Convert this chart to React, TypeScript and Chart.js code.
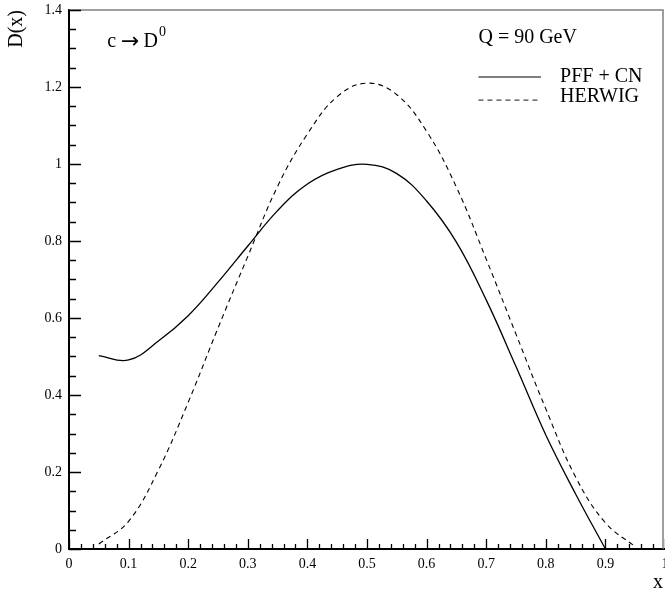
import { useEffect, useRef } from 'react';
import { Chart, registerables } from 'chart.js';

Chart.register(...registerables);

// PFF + CN (solid)
const xPff = [0.05, 0.1, 0.15, 0.2, 0.25, 0.3, 0.35, 0.4, 0.45, 0.5, 0.55, 0.6, 0.65, 0.7, 0.75, 0.8, 0.85, 0.9];
const yPff = [0.502, 0.491, 0.54, 0.606, 0.693, 0.787, 0.879, 0.948, 0.986, 0.999, 0.975, 0.904, 0.797, 0.647, 0.474, 0.296, 0.143, 0.0];

// HERWIG (dashed)
const xHer = [0.05, 0.1, 0.15, 0.2, 0.25, 0.3, 0.35, 0.4, 0.45, 0.5, 0.55, 0.6, 0.65, 0.7, 0.75, 0.8, 0.85, 0.9, 0.95];
const yHer = [0.013, 0.072, 0.205, 0.381, 0.574, 0.76, 0.942, 1.078, 1.175, 1.21, 1.18, 1.085, 0.94, 0.753, 0.558, 0.364, 0.187, 0.068, 0.006];

const seriesNames = ['PFF + CN', 'HERWIG'];
const energyLabel = 'Q = 90 GeV';
const yTitle = 'D(x)';
const xTitle = 'x';

const FONT = '"Liberation Serif", "Times New Roman", serif';
const DASH = [5, 4];

const fmt = (v: any) => String(Number(Number(v).toFixed(2)));

const annot = {
  id: 'annot',
  afterDraw(chart: any) {
    const { ctx, chartArea: a, scales } = chart;
    const x = scales.x;
    const y = scales.y;
    ctx.save();
    // top / right frame
    ctx.strokeStyle = '#808080';
    ctx.lineWidth = 1.5;
    ctx.beginPath();
    ctx.moveTo(a.left, a.top);
    ctx.lineTo(a.right - 2, a.top);
    ctx.lineTo(a.right - 2, a.bottom);
    ctx.stroke();

    // inner ticks
    ctx.strokeStyle = '#000';
    ctx.lineWidth = 1.3;
    ctx.beginPath();
    for (let i = 0; i <= 50; i++) {
      const px = Math.round(x.getPixelForValue(i * 0.02)) + 0.5;
      const len = i % 5 === 0 ? 10 : 5;
      ctx.moveTo(px, a.bottom);
      ctx.lineTo(px, a.bottom - len);
    }
    for (let i = 0; i <= 28; i++) {
      const py = Math.round(y.getPixelForValue(i * 0.05)) + 0.5;
      const len = i % 4 === 0 ? 12 : 7;
      ctx.moveTo(a.left, py);
      ctx.lineTo(a.left + len, py);
    }
    ctx.stroke();

    ctx.fillStyle = '#000';
    ctx.textBaseline = 'alphabetic';
    ctx.textAlign = 'left';
    // process label: c -> D^0
    const cx = x.getPixelForValue(0.064);
    const cy = y.getPixelForValue(1.304);
    ctx.font = `20px ${FONT}`;
    ctx.fillText('c', cx, cy);
    let px = cx + ctx.measureText('c').width + 5;
    ctx.font = `22px "DejaVu Sans", sans-serif`;
    ctx.fillText('\u2192', px, cy + 1);
    px += ctx.measureText('\u2192').width + 4;
    ctx.font = `20px ${FONT}`;
    ctx.fillText('D', px, cy);
    px += ctx.measureText('D').width + 1;
    ctx.font = `14px ${FONT}`;
    ctx.fillText('0', px, cy - 11);

    // energy label
    ctx.font = `20px ${FONT}`;
    ctx.fillText(energyLabel, x.getPixelForValue(0.687), y.getPixelForValue(1.314));

    // legend
    const lx0 = x.getPixelForValue(0.687);
    const lx1 = x.getPixelForValue(0.792);
    const tx = x.getPixelForValue(0.824);
    const ly1 = y.getPixelForValue(1.226);
    const ly2 = y.getPixelForValue(1.166);
    ctx.lineWidth = 1.2;
    ctx.beginPath();
    ctx.moveTo(lx0, ly1);
    ctx.lineTo(lx1, ly1);
    ctx.stroke();
    ctx.setLineDash(DASH);
    ctx.strokeStyle = '#444';
    ctx.beginPath();
    ctx.moveTo(lx0, ly2);
    ctx.lineTo(lx1, ly2);
    ctx.stroke();
    ctx.setLineDash([]);
    ctx.fillText(seriesNames[0], tx, y.getPixelForValue(1.213));
    ctx.fillText(seriesNames[1], tx, y.getPixelForValue(1.161));

    // axis titles
    ctx.font = `20px ${FONT}`;
    ctx.textAlign = 'right';
    ctx.fillText(xTitle, chart.width - 2, chart.height - 3);
    ctx.save();
    ctx.translate(22, 10);
    ctx.rotate(-Math.PI / 2);
    ctx.textAlign = 'right';
    ctx.textBaseline = 'alphabetic';
    ctx.fillText(yTitle, 0, 0);
    ctx.restore();

    ctx.restore();
  },
};

export default function App() {
  const ref = useRef<HTMLCanvasElement | null>(null);
  useEffect(() => {
    if (!ref.current) return;
    const chart = new Chart(ref.current, {
      type: 'line',
      data: {
        datasets: [
          {
            label: seriesNames[0],
            data: xPff.map((v, i) => ({ x: v, y: yPff[i] })),
            borderColor: '#000',
            borderWidth: 1.3,
            pointRadius: 0,
            fill: false,
            tension: 0.4,
          },
          {
            label: seriesNames[1],
            data: xHer.map((v, i) => ({ x: v, y: yHer[i] })),
            borderColor: '#000',
            borderWidth: 1.1,
            borderDash: DASH,
            pointRadius: 0,
            fill: false,
            tension: 0.4,
          },
        ],
      },
      options: {
        animation: false,
        responsive: false,
        layout: { padding: { top: 10, left: 0, right: 0, bottom: 0 } },
        plugins: { legend: { display: false }, tooltip: { enabled: false } },
        scales: {
          x: {
            type: 'linear',
            min: 0,
            max: 1,
            grid: { display: false, drawTicks: false },
            border: { display: true, color: '#000', width: 2 },
            ticks: {
              stepSize: 0.1,
              padding: 7,
              color: '#000',
              font: { family: FONT, size: 14 },
              maxRotation: 0,
              autoSkip: false,
              callback: fmt,
            },
            afterFit(scale: any) {
              scale.height = 42;
              scale.paddingLeft = 0;
              scale.paddingRight = 0;
            },
          },
          y: {
            type: 'linear',
            min: 0,
            max: 1.4,
            grid: { display: false, drawTicks: false },
            border: { display: true, color: '#000', width: 2 },
            ticks: {
              stepSize: 0.2,
              padding: 7,
              color: '#000',
              font: { family: FONT, size: 14 },
              autoSkip: false,
              callback: fmt,
            },
            afterFit(scale: any) {
              scale.width = 69;
              scale.paddingTop = 0;
              scale.paddingBottom = 0;
            },
          },
        },
      },
      plugins: [annot],
    } as any);
    return () => chart.destroy();
  }, []);
  return (
    <div style={{ position: 'absolute', left: 0, top: 0, width: 665, height: 591 }}>
      <canvas ref={ref} width={665} height={591} style={{ width: 665, height: 591 }} />
    </div>
  );
}
